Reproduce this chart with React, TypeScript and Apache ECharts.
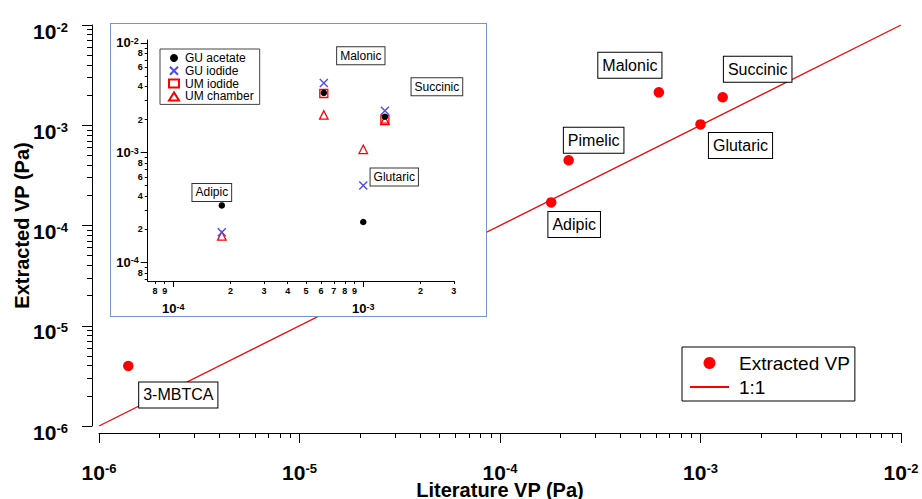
import React, { useEffect, useRef } from 'react';
import * as echarts from 'echarts';

// ---------- Main chart data ----------
const compounds = ['3-MBTCA', 'Adipic', 'Pimelic', 'Malonic', 'Glutaric', 'Succinic'];
const literatureVP = [1.4e-6, 1.8e-4, 2.2e-4, 6.2e-4, 1.0e-3, 1.29e-3];
const extractedVP = [3.97e-6, 1.7e-4, 4.47e-4, 2.13e-3, 1.02e-3, 1.9e-3];
const oneToOne = [1e-6, 1e-2];
const mainRange = [1e-6, 1e-2];
const mainMinorTicks = [
  2e-6, 3e-6, 4e-6, 5e-6, 6e-6, 7e-6, 8e-6, 9e-6,
  2e-5, 3e-5, 4e-5, 5e-5, 6e-5, 7e-5, 8e-5, 9e-5,
  2e-4, 3e-4, 4e-4, 5e-4, 6e-4, 7e-4, 8e-4, 9e-4,
  2e-3, 3e-3, 4e-3, 5e-3, 6e-3, 7e-3, 8e-3, 9e-3,
];

// ---------- Inset data ----------
const insetCompounds = ['Adipic', 'Malonic', 'Glutaric', 'Succinic'];
const insetLiteratureVP = [1.8e-4, 6.2e-4, 1.0e-3, 1.3e-3];
const guAcetate = [3.3e-4, 3.5e-3, 2.33e-4, 2.12e-3];
const guIodide = [1.88e-4, 4.3e-3, 5.0e-4, 2.4e-3];
const umIodide: (number | null)[] = [null, 3.45e-3, null, 2.02e-3];
const umChamber = [1.74e-4, 2.2e-3, 1.07e-3, 1.96e-3];
const insetXRange = [7.33e-5, 3.005e-3];
const insetYRange = [6.76e-5, 1.06e-2];
const insetXMajor = [1e-4, 1e-3];
const insetYMajor = [1e-4, 1e-3, 1e-2];
const insetXMinorTicks = [8e-5, 9e-5, 2e-4, 3e-4, 4e-4, 5e-4, 6e-4, 7e-4, 8e-4, 9e-4, 2e-3, 3e-3];
const insetXMinorLabels = [8e-5, 9e-5, 2e-4, 3e-4, 4e-4, 5e-4, 6e-4, 7e-4, 8e-4, 9e-4, 2e-3, 3e-3];
const insetYMinorTicks = [
  7e-5, 8e-5, 9e-5,
  2e-4, 3e-4, 4e-4, 5e-4, 6e-4, 7e-4, 8e-4, 9e-4,
  2e-3, 3e-3, 4e-3, 5e-3, 6e-3, 7e-3, 8e-3, 9e-3,
];
const insetYMinorLabels = [8e-5, 2e-4, 4e-4, 6e-4, 8e-4, 2e-3, 4e-3, 6e-3, 8e-3];

// ---------- Styling (positions of annotation boxes relative to points) ----------
const mainLabelOffsets: [number, number][] = [[50, 29], [23, 22], [25, -20], [-29, -27], [40, 21], [35, -28]];
const insetLabelOffsets: [number, number][] = [[-10, -13], [37, -37], [31, -45], [52, -30]];

const FONT = '"Liberation Sans", Arial, Helvetica, sans-serif';
const RED = '#ff0000';
const BLUE = '#4b4bf0';

function powLabel(v: number): string {
  const l = Math.log10(v);
  const e = Math.round(l);
  if (Math.abs(l - e) > 0.01) return '';
  return `{b|10}{s|${e}}`;
}
function leadDigit(v: number): string {
  const p = Math.pow(10, Math.floor(Math.log10(v) + 1e-9));
  return String(Math.round(v / p));
}

const mainRich = {
  b: { fontSize: 21, fontWeight: 'bold', lineHeight: 21, verticalAlign: 'bottom', color: '#000', fontFamily: FONT },
  s: { fontSize: 13, fontWeight: 'bold', lineHeight: 13, padding: [0, 0, 12, 0], verticalAlign: 'top', color: '#000', fontFamily: FONT },
};
const insetRich = {
  b: { fontSize: 13, fontWeight: 'bold', lineHeight: 13, verticalAlign: 'bottom', color: '#000', fontFamily: FONT },
  s: { fontSize: 9, fontWeight: 'bold', lineHeight: 9, padding: [0, 0, 10, 0], verticalAlign: 'top', color: '#000', fontFamily: FONT },
};

const black = { color: '#000', width: 1 };

function buildMain(): any {
  const scatterData = compounds.map((n, i) => ({
    name: n,
    value: [literatureVP[i], extractedVP[i]],
    label: { offset: mainLabelOffsets[i] },
  }));
  return {
    animation: false,
    textStyle: { fontFamily: FONT },
    grid: { left: 99, right: 21, top: 25, bottom: 73, containLabel: false, outerBoundsMode: 'none' },
    legend: {
      data: ['Extracted VP', { name: '1:1', itemStyle: { opacity: 0, color: 'rgba(0,0,0,0)', borderWidth: 0 } }],
      orient: 'vertical',
      left: 682,
      top: 347,
      padding: [6, 5, 4, 7],
      itemGap: 4,
      itemWidth: 39,
      itemHeight: 12,
      borderColor: '#000',
      borderWidth: 1,
      backgroundColor: '#fff',
      textStyle: { fontSize: 19, lineHeight: 20, color: '#000', fontFamily: FONT, padding: [0, 0, 0, 5] },
    },
    xAxis: [
      {
        type: 'log', position: 'bottom', min: mainRange[0], max: mainRange[1], offset: 7,
        name: 'Literature VP (Pa)', nameLocation: 'middle', nameGap: 47, nameMoveOverlap: false,
        nameTextStyle: { fontSize: 20, fontWeight: 'bold', color: '#000', fontFamily: FONT, lineHeight: 20 },
        axisLine: { lineStyle: black },
        axisTick: { length: 10, lineStyle: black },
        axisLabel: { margin: 29, formatter: powLabel, rich: mainRich, fontSize: 21, fontWeight: 'bold', color: '#000' },
        splitLine: { show: false },
      },
      {
        type: 'log', position: 'bottom', min: mainRange[0], max: mainRange[1], offset: 7,
        axisLine: { show: false },
        axisTick: { customValues: mainMinorTicks, length: 5, lineStyle: black },
        axisLabel: { show: false },
        splitLine: { show: false },
      },
    ],
    yAxis: [
      {
        type: 'log', position: 'left', min: mainRange[0], max: mainRange[1], offset: 7,
        name: 'Extracted VP (Pa)', nameLocation: 'middle', nameGap: 60, nameMoveOverlap: false,
        nameTextStyle: { fontSize: 20, fontWeight: 'bold', color: '#000', fontFamily: FONT },
        axisLine: { lineStyle: black },
        axisTick: { length: 10, lineStyle: black },
        axisLabel: { margin: 24, formatter: powLabel, rich: mainRich, padding: [12, 0, 0, 0], fontSize: 21, fontWeight: 'bold', color: '#000' },
        splitLine: { show: false },
      },
      {
        type: 'log', position: 'left', min: mainRange[0], max: mainRange[1], offset: 7,
        axisLine: { show: false },
        axisTick: { customValues: mainMinorTicks, length: 5, lineStyle: black },
        axisLabel: { show: false },
        splitLine: { show: false },
      },
    ],
    series: [
      {
        name: '1:1',
        type: 'line',
        xAxisIndex: 0,
        yAxisIndex: 0,
        data: [[oneToOne[0], oneToOne[0]], [oneToOne[1], oneToOne[1]]],
        symbol: 'none',
        lineStyle: { color: RED, width: 1.2 },
        itemStyle: { color: RED },
        silent: true,
        z: 2,
      },
      {
        name: 'Extracted VP',
        type: 'scatter',
        xAxisIndex: 0,
        yAxisIndex: 0,
        symbol: 'circle',
        symbolSize: 10.5,
        itemStyle: { color: RED, opacity: 1 },
        data: scatterData,
        z: 3,
        label: {
          show: true,
          position: 'inside',
          formatter: '{b}',
          color: '#000',
          fontSize: 16,
          lineHeight: 18,
          fontFamily: FONT,
          backgroundColor: '#fff',
          borderColor: '#000',
          borderWidth: 1,
          padding: [4, 4, 3, 4],
        },
      },
    ],
  };
}

function buildInset(): any {
  const mk = (vals: (number | null)[]) =>
    insetCompounds
      .map((n, i) => ({ name: n, value: [insetLiteratureVP[i], vals[i]] }))
      .filter((d) => d.value[1] != null);
  const acetateData = insetCompounds.map((n, i) => ({
    name: n,
    value: [insetLiteratureVP[i], guAcetate[i]],
    label: { offset: insetLabelOffsets[i] },
  }));
  const axisCommon = { splitLine: { show: false } };
  const minorLabel = { fontSize: 9, fontWeight: 'bold', lineHeight: 9, color: '#000', fontFamily: FONT };
  return {
    animation: false,
    textStyle: { fontFamily: FONT },
    grid: { left: 36.7, top: 16, width: 306.3, height: 241, containLabel: false, outerBoundsMode: 'none' },
    legend: {
      data: ['GU acetate', 'GU iodide', 'UM iodide', 'UM chamber'],
      orient: 'vertical',
      left: 49,
      top: 25,
      padding: [3, 6, 2, 8],
      itemGap: 0.8,
      itemWidth: 10,
      itemHeight: 8,
      borderColor: '#444',
      borderWidth: 1,
      backgroundColor: '#fff',
      textStyle: { fontSize: 12, lineHeight: 12, color: '#000', fontFamily: FONT, padding: [0, 0, 0, 1] },
    },
    xAxis: [
      {
        type: 'log', position: 'bottom', min: insetXRange[0], max: insetXRange[1], ...axisCommon,
        axisLine: { lineStyle: black },
        axisTick: { customValues: insetXMajor, length: 6, lineStyle: black },
        axisLabel: { customValues: insetXMajor, margin: 21, formatter: powLabel, rich: insetRich, fontSize: 13, fontWeight: 'bold', color: '#000' },
      },
      {
        type: 'log', position: 'bottom', min: insetXRange[0], max: insetXRange[1], ...axisCommon,
        axisLine: { show: false },
        axisTick: { customValues: insetXMinorTicks, length: 3, lineStyle: black },
        axisLabel: { customValues: insetXMinorLabels, margin: 5, formatter: leadDigit, ...minorLabel },
      },
    ],
    yAxis: [
      {
        type: 'log', position: 'left', min: insetYRange[0], max: insetYRange[1], ...axisCommon,
        axisLine: { lineStyle: black },
        axisTick: { customValues: insetYMajor, length: 7, lineStyle: black },
        axisLabel: { customValues: insetYMajor, margin: 9, formatter: powLabel, rich: insetRich, fontSize: 13, fontWeight: 'bold', color: '#000' },
      },
      {
        type: 'log', position: 'left', min: insetYRange[0], max: insetYRange[1], ...axisCommon,
        axisLine: { show: false },
        axisTick: { customValues: insetYMinorTicks, length: 3, lineStyle: black },
        axisLabel: { customValues: insetYMinorLabels, margin: 5, formatter: leadDigit, ...minorLabel },
      },
    ],
    series: [
      {
        name: 'UM chamber', type: 'scatter', xAxisIndex: 0, yAxisIndex: 0,
        symbol: 'triangle', symbolSize: 8.5,
        itemStyle: { color: '#fff', borderColor: RED, borderWidth: 1.3, opacity: 1 },
        data: mk(umChamber), z: 3,
      },
      {
        name: 'UM iodide', type: 'scatter', xAxisIndex: 0, yAxisIndex: 0,
        symbol: 'rect', symbolSize: 8,
        itemStyle: { color: 'rgba(255,255,255,0)', borderColor: RED, borderWidth: 1.3, opacity: 1 },
        data: mk(umIodide), z: 4,
      },
      {
        name: 'GU acetate', type: 'scatter', xAxisIndex: 0, yAxisIndex: 0,
        symbol: 'circle', symbolSize: 6.5,
        itemStyle: { color: '#000', opacity: 1 },
        data: acetateData, z: 5,
        label: {
          show: true, position: 'inside', formatter: '{b}', color: '#000',
          fontSize: 12, lineHeight: 13, fontFamily: FONT,
          backgroundColor: '#fff', borderColor: '#333', borderWidth: 1, padding: [2, 3, 2, 3],
        },
      },
      {
        name: 'GU iodide', type: 'scatter', xAxisIndex: 0, yAxisIndex: 0,
        symbol: 'path://M0,0L10,10M10,0L0,10', symbolSize: 8,
        itemStyle: { color: BLUE, borderColor: BLUE, borderWidth: 1.4, opacity: 1 },
        data: mk(guIodide), z: 6,
      },
    ],
  };
}

export default function App() {
  const mainRef = useRef<HTMLDivElement>(null);
  const insetRef = useRef<HTMLDivElement>(null);
  useEffect(() => {
    const main = echarts.init(mainRef.current!, null, { renderer: 'svg' });
    main.setOption(buildMain());
    const inset = echarts.init(insetRef.current!, null, { renderer: 'svg' });
    inset.setOption(buildInset());
    return () => {
      main.dispose();
      inset.dispose();
    };
  }, []);
  return (
    <div style={{ position: 'fixed', left: 0, top: 0, width: 922, height: 499, background: '#fff', overflow: 'hidden' }}>
      <div ref={mainRef} style={{ position: 'absolute', left: 0, top: 0, width: 922, height: 499 }} />
      <div
        style={{
          position: 'absolute', left: 110, top: 23, width: 377, height: 294,
          boxSizing: 'border-box', border: '1px solid #7396cc', background: '#fff',
        }}
      >
        <div ref={insetRef} style={{ width: 375, height: 292 }} />
      </div>
    </div>
  );
}
